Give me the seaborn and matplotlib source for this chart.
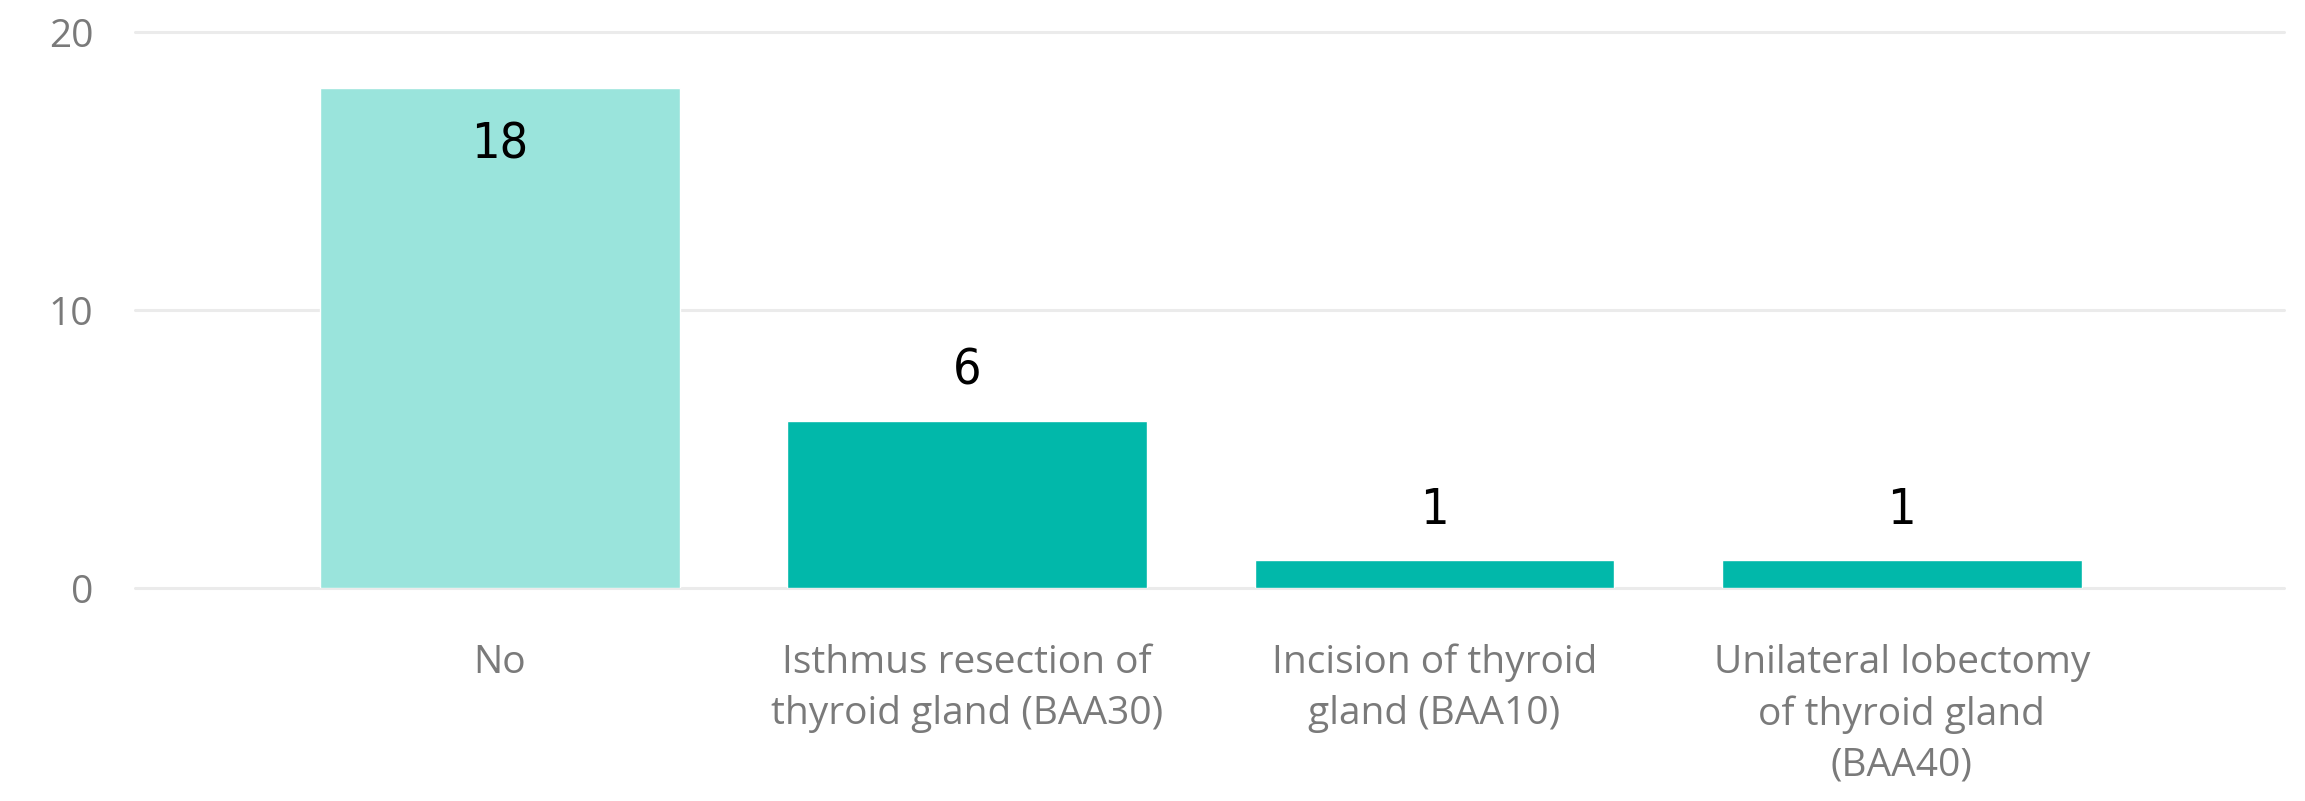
import matplotlib
matplotlib.use("Agg")
import matplotlib.pyplot as plt
import seaborn as sns
import pandas as pd

# data
categories = [
    "No",
    "Isthmus resection of\nthyroid gland (BAA30)",
    "Incision of thyroid\ngland (BAA10)",
    "Unilateral lobectomy\nof thyroid gland\n(BAA40)",
]
counts = [18, 6, 1, 1]
bar_colors = ["#9AE4DC", "#01B8AA", "#01B8AA", "#01B8AA"]
y_ticks = [0, 10, 20]

sns.set_theme(style="white")
plt.rcParams["font.family"] = ["Open Sans", "DejaVu Sans"]

df = pd.DataFrame({"category": categories, "count": counts})

fig = plt.figure(figsize=(23.05, 8.01), dpi=100)
ax = fig.add_axes([0.0586, 0.2659, 0.9323, 0.6941])

sns.barplot(data=df, x="category", y="count", hue="category",
            palette=bar_colors, width=0.77, legend=False, saturation=1,
            ax=ax, zorder=3)

ax.set_ylim(0, 20)
ax.set_xlim(-0.781, 3.818)
ax.set_yticks(y_ticks)
for t in y_ticks:
    ax.axhline(t, color="#EBEBEB", linewidth=2.2, zorder=1, clip_on=False)

for s in ax.spines.values():
    s.set_visible(False)

ax.tick_params(axis="both", length=0, labelsize=28, labelcolor="#7A7A7A")
ax.tick_params(axis="y", pad=30)
ax.tick_params(axis="x", pad=40)
for lbl in ax.get_xticklabels():
    lbl.set_linespacing(1.45)
ax.set_xlabel("")
ax.set_ylabel("")

# data labels: inside the tall bar, above the short ones
label_font = dict(fontsize=36, color="black", fontstretch="condensed",
                  family=["DejaVu Sans", "Roboto"])
for i, v in enumerate(counts):
    if v > 15:
        ax.annotate(str(v), (i, v), xytext=(0, -24), textcoords="offset points",
                    ha="center", va="top", **label_font)
    else:
        ax.annotate(str(v), (i, v), xytext=(0, 19), textcoords="offset points",
                    ha="center", va="bottom", **label_font)

fig.savefig("out.png", dpi=100)
